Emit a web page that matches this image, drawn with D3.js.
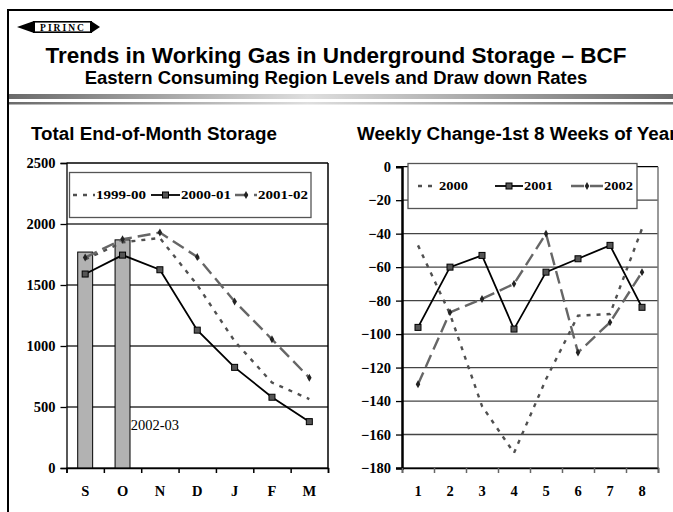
<!DOCTYPE html>
<html>
<head>
<meta charset="utf-8">
<script src="https://cdn.jsdelivr.net/npm/d3@7"></script>
<style>
  body { margin: 0; background: #fff; }
  svg { display: block; }
  .serif { font-family: "Liberation Serif", "Times New Roman", serif; font-weight: bold; }
  .sans { font-family: "Liberation Sans", Arial, sans-serif; font-weight: bold; }
</style>
</head>
<body>
<svg id="chart" width="673" height="512"></svg>
<script>
// Left panel data: end-of-month storage (BCF)
var months = ["S", "O", "N", "D", "J", "F", "M"];
var storage9900 = [1710, 1850, 1885, 1500, 1040, 700, 565];
var storage0001 = [1590, 1745, 1625, 1130, 825, 580, 380];
var storage0102 = [1725, 1875, 1930, 1730, 1365, 1055, 740];
var storage0203 = [1770, 1870];   // bars for S and O only
var storageTicks = [0, 500, 1000, 1500, 2000, 2500];

// Right panel data: weekly change, first 8 weeks
var weeks = ["1", "2", "3", "4", "5", "6", "7", "8"];
var weekly2000 = [-47, -88, -143, -171, -127, -89, -88, -37];
var weekly2001 = [-96, -60, -53, -97, -63, -55, -47, -84];
var weekly2002 = [-130, -87, -79, -70, -40, -111, -93, -63];
var weeklyTicks = [0, -20, -40, -60, -80, -100, -120, -140, -160, -180];

var svg = d3.select('#chart');

// ---- frame and header ----
svg.append('path')
  .attr('d', 'M8,512V10H673')
  .attr('fill', 'none').attr('stroke', '#000').attr('stroke-width', 2);

// PIRINC badge
var logo = svg.append('g').attr('transform', 'translate(17,21)');
logo.append('path').attr('d', 'M0,6L17,0V12Z').attr('fill', '#000');
logo.append('path').attr('d', 'M83,6L74,0V12Z').attr('fill', '#000');
logo.append('rect').attr('x', 16).attr('y', 0).attr('width', 59).attr('height', 12)
  .attr('fill', '#000');
logo.append('rect').attr('x', 18).attr('y', 1.6).attr('width', 55).attr('height', 8.8)
  .attr('fill', '#fff');
logo.append('text').attr('class', 'serif').attr('x', 46).attr('y', 9.6)
  .attr('text-anchor', 'middle').style('font-size', '9.5px').style('letter-spacing', '2px')
  .text('PIRINC');

svg.append('text').attr('class', 'sans')
  .attr('x', 336).attr('y', 63).attr('text-anchor', 'middle')
  .style('font-size', '22.5px')
  .text('Trends in Working Gas in Underground Storage – BCF');
svg.append('text').attr('class', 'sans')
  .attr('x', 336).attr('y', 84).attr('text-anchor', 'middle')
  .style('font-size', '18.5px')
  .text('Eastern Consuming Region Levels and Draw down Rates');

var grad = svg.append('defs').append('linearGradient').attr('id', 'hdr');
grad.append('stop').attr('offset', '0%').attr('stop-color', '#6a6a6a');
grad.append('stop').attr('offset', '45%').attr('stop-color', '#dedede');
grad.append('stop').attr('offset', '100%').attr('stop-color', '#6a6a6a');
svg.append('rect').attr('x', 9).attr('y', 94).attr('width', 664).attr('height', 5).attr('fill', 'url(#hdr)');
svg.append('rect').attr('x', 9).attr('y', 102).attr('width', 664).attr('height', 2.5).attr('fill', 'url(#hdr)');

// ---- helpers ----
function diamond(g, x, y, col) {
  g.append('path').attr('d', d3.symbol(d3.symbolDiamond, 18)())
    .attr('transform', 'translate(' + x + ',' + y + ')').attr('fill', col);
}
function square(g, x, y) {
  g.append('rect').attr('x', x - 3).attr('y', y - 3).attr('width', 6).attr('height', 6)
    .attr('fill', '#555').attr('stroke', '#000').attr('stroke-width', 1);
}

var dotStyle = { color: '#505050', dash: '4,6', width: 2.4 };
var solidStyle = { color: '#000', dash: null, width: 1.8 };
var longStyle = { color: '#666', dash: '13,6', width: 2.4 };

function drawPanel(opt) {
  var g = svg.append('g');
  var x = d3.scaleBand().domain(opt.cats).range([opt.left, opt.right]);
  var y = d3.scaleLinear().domain(opt.domain).range([opt.bottom, opt.top]);

  // gridlines
  g.selectAll('.grid').data(opt.ticks).enter().append('line')
    .attr('x1', opt.left).attr('x2', opt.right)
    .attr('y1', function(d) { return y(d); }).attr('y2', function(d) { return y(d); })
    .attr('stroke', function(d) { return d === opt.domain[1] ? '#000' : opt.gridColor; })
    .attr('stroke-width', 1.3);
  g.append('line').attr('x1', opt.right).attr('x2', opt.right)
    .attr('y1', opt.top).attr('y2', opt.bottom)
    .attr('stroke', opt.borderColor).attr('stroke-width', 1.5);

  // bars
  if (opt.bars) {
    g.selectAll('.bar').data(opt.bars).enter().append('rect')
      .attr('x', function(d, i) { return x(opt.cats[i]) + x.bandwidth() * 0.3; })
      .attr('width', x.bandwidth() * 0.4)
      .attr('y', function(d) { return y(d); })
      .attr('height', function(d) { return opt.bottom - y(d); })
      .attr('fill', '#b2b2b2').attr('stroke', '#000').attr('stroke-width', 1);
    g.append('text').attr('x', x(opt.cats[1]) + x.bandwidth() * 0.72).attr('y', y(315))
      .style('font-family', '"Liberation Serif", "Times New Roman", serif')
      .style('font-size', '14.5px').text(opt.barLabel);
  }

  // series
  var line = d3.line()
    .x(function(d, i) { return x(opt.cats[i]) + x.bandwidth() / 2; })
    .y(function(d) { return y(d); });
  opt.series.forEach(function(s) {
    g.append('path').datum(s.values).attr('d', line)
      .attr('fill', 'none').attr('stroke', s.style.color)
      .attr('stroke-width', s.style.width)
      .attr('stroke-dasharray', s.style.dash);
    s.values.forEach(function(v, i) {
      var cx = x(opt.cats[i]) + x.bandwidth() / 2;
      if (s.marker === 'square') square(g, cx, y(v));
      if (s.marker === 'diamond') diamond(g, cx, y(v), '#222');
    });
  });

  // axes
  var yAxis = d3.axisLeft(y).tickValues(opt.ticks).tickSize(6).tickPadding(5)
    .tickFormat(d3.format('d'));
  var ya = g.append('g').attr('transform', 'translate(' + opt.left + ',0)').call(yAxis);
  ya.select('.domain').attr('stroke', '#000').attr('stroke-width', opt.axisWidth);
  ya.selectAll('.tick line').attr('stroke-width', 1.3);
  ya.selectAll('text').attr('class', 'serif').style('font-size', '14.5px').attr('fill', '#000');

  var edges = d3.scaleLinear().domain([0, opt.cats.length]).range([opt.left, opt.right]);
  var xa = g.append('g').attr('transform', 'translate(0,' + opt.bottom + ')')
    .call(d3.axisBottom(edges).ticks(opt.cats.length).tickSize(5).tickFormat(''));
  xa.select('.domain').attr('stroke', '#000').attr('stroke-width', 1.5);
  xa.selectAll('.tick line').attr('stroke', opt.xTickColor).attr('stroke-width', 1.5);
  g.selectAll('.cat').data(opt.cats).enter().append('text')
    .attr('class', 'serif').style('font-size', '14.5px')
    .attr('x', function(d) { return x(d) + x.bandwidth() / 2; })
    .attr('y', opt.bottom + 28).attr('text-anchor', 'middle').text(function(d) { return d; });

  // title
  svg.append('text').attr('class', 'sans').attr('x', opt.titleX).attr('y', 140)
    .style('font-size', '18.8px').text(opt.title);

  // legend
  var lg = g.append('g');
  lg.append('rect').attr('x', opt.legend.x).attr('y', opt.legend.y)
    .attr('width', opt.legend.w).attr('height', opt.legend.h)
    .attr('fill', '#fff').attr('stroke', '#555').attr('stroke-width', 1.3);
  var ly = opt.legend.y + opt.legend.h / 2;
  opt.series.forEach(function(s, i) {
    var sx = opt.legend.items[i];
    lg.append('line').attr('x1', sx[0]).attr('x2', sx[1]).attr('y1', ly).attr('y2', ly)
      .attr('stroke', s.style.color).attr('stroke-width', s.style.width)
      .attr('stroke-dasharray', s.style.dash);
    var mx = (sx[0] + sx[1]) / 2;
    if (s.marker === 'square') square(lg, mx, ly);
    if (s.marker === 'diamond') diamond(lg, mx, ly, '#222');
    lg.append('text').attr('class', 'serif').style('font-size', '12px')
      .attr('x', sx[1] + 1).attr('y', ly + 4)
      .attr('textLength', opt.legend.textW).attr('lengthAdjust', 'spacingAndGlyphs')
      .text(s.name);
  });
}

drawPanel({
  cats: months, domain: [0, 2500], ticks: storageTicks,
  left: 66.5, right: 328, top: 163, bottom: 468,
  gridColor: '#333', borderColor: '#000', xTickColor: '#000', axisWidth: 1.3,
  bars: storage0203, barLabel: '2002-03',
  title: 'Total End-of-Month Storage', titleX: 31,
  series: [
    { name: '1999-00', values: storage9900, style: dotStyle },
    { name: '2000-01', values: storage0001, style: solidStyle, marker: 'square' },
    { name: '2001-02', values: storage0102, style: longStyle, marker: 'diamond' }
  ],
  legend: { x: 69.5, y: 172.5, w: 241.5, h: 45, textW: 50,
    items: [[73, 95], [151, 180], [235, 257]] }
});

drawPanel({
  cats: weeks, domain: [-180, 0], ticks: weeklyTicks,
  left: 402, right: 658, top: 166.7, bottom: 468,
  gridColor: '#444', borderColor: '#777', xTickColor: '#666', axisWidth: 2.5,
  title: 'Weekly Change-1st 8 Weeks of Year', titleX: 357,
  series: [
    { name: '2000', values: weekly2000, style: dotStyle },
    { name: '2001', values: weekly2001, style: solidStyle, marker: 'square' },
    { name: '2002', values: weekly2002, style: longStyle, marker: 'diamond' }
  ],
  legend: { x: 408, y: 163.5, w: 229, h: 45, textW: 29,
    items: [[418, 438], [495, 523], [571, 603]] }
});
</script>
</body>
</html>
